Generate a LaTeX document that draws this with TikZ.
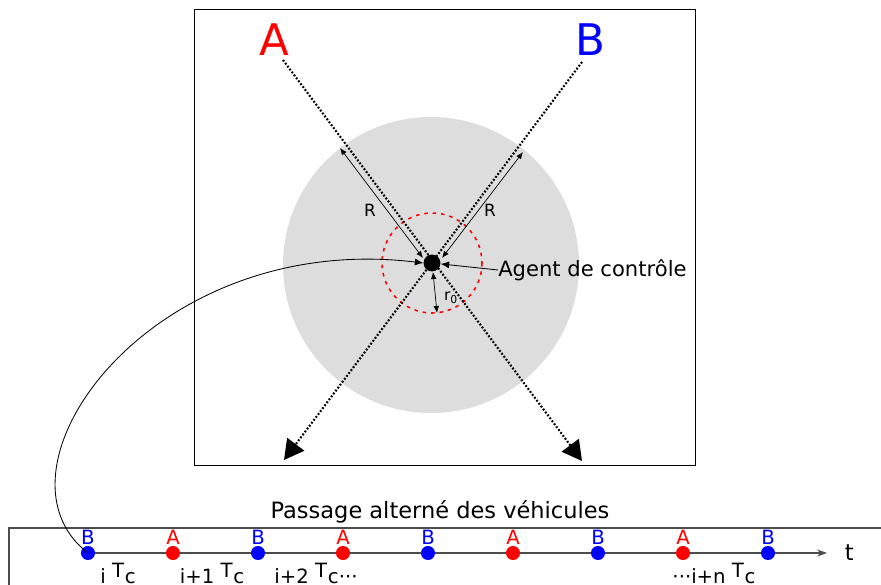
\documentclass[tikz,border=0pt]{standalone}
\usepackage{fontspec}
\setmainfont{DejaVu Sans}
\usepackage{tikz}
\usetikzlibrary{positioning,arrows.meta,calc}
\definecolor{vA}{RGB}{255,0,0}
\definecolor{vB}{RGB}{0,0,255}
\definecolor{zone}{RGB}{221,221,221}
\tikzset{
  dotln/.style={line width=1.5pt,dash pattern=on 1.3pt off 1.3pt,-{Triangle[length=14pt,width=15pt]}},
  dim/.style={{Latex[length=5pt,width=4pt]}-{Latex[length=5pt,width=4pt]},line width=0.5pt},
  veh/.style={circle,inner sep=0pt,minimum size=10pt},
  big/.style={font=\fontsize{31}{36}\selectfont,inner sep=0pt},
  vlab/.style={font=\fontsize{14}{16}\selectfont,inner sep=0pt,above=1pt},
  tlab/.style={font=\fontsize{14}{16}\selectfont,inner sep=0pt,anchor=base},
}
\newcommand{\Tc}{\raisebox{0.55ex}{T}\kern0.5pt c}
\begin{document}
\begin{tikzpicture}[x=0.025cm,y=-0.025cm]
  \useasboundingbox (0,0) rectangle (881,585);
  % zone de controle
  \draw[line width=0.6pt] (194,9) rectangle (695,465);
  \fill[zone] (431,265) circle (148);
  \draw[vA,line width=1.1pt,dash pattern=on 2.5pt off 3.5pt] (432,263) circle (50);
  % origines et sorties des flux
  \node[big,text=vA] (labA) at (274,40) {A};
  \node[big,text=vB] (labB) at (590,40) {B};
  \coordinate (aS) at (283,60);
  \coordinate (aE) at (582,461);
  \coordinate (bS) at (582,62);
  \coordinate (bE) at (284,460);
  \draw[dotln] (aS) -- (aE);
  \draw[dotln] (bS) -- (bE);
  \node[circle,fill=black,inner sep=0pt,minimum size=12pt] (agent) at (432,263) {};
  % rayons
  \coordinate (rA1) at (340,148);
  \coordinate (rA2) at (423,258);
  \coordinate (rB1) at (523,152);
  \coordinate (rB2) at (442,258);
  \coordinate (r01) at (433,272);
  \coordinate (r02) at (437,313);
  \draw[dim] (rA1) -- (rA2);
  \draw[dim] (rB1) -- (rB2);
  \draw[dim] (r01) -- (r02);
  \node[font=\fontsize{12}{14}\selectfont] (lR1) at (370,210) {R};
  \node[font=\fontsize{12}{14}\selectfont] (lR2) at (490,210) {R};
  \node[font=\fontsize{11}{13}\selectfont,inner sep=0pt] (lr0) at (451,298) {r\textsubscript{0}};
  \node[font=\fontsize{15}{18}\selectfont,anchor=west,inner sep=0pt] (ctrl) at (498,270) {Agent de contrôle};
  \draw[-{Latex[length=6pt,width=5pt]},line width=0.6pt] (ctrl.west) -- (agent);
  % ligne du temps
  \node[font=\fontsize{16}{19}\selectfont] (titre) at (440,512) {Passage alterné des véhicules};
  \draw[gray!60!black,line width=1pt] (9,600) -- (9,528) -- (890,528);
  \coordinate (tEnd) at (827,553);
  \draw[gray!60!black,line width=0.8pt,-{Stealth[length=7pt,width=5pt]}] (88,553) -- (tEnd);
  \node[font=\fontsize{16}{19}\selectfont,anchor=west] (t) at (840,553) {t};
  \foreach \k/\lab/\col in {0/B/vB,1/A/vA,2/B/vB,3/A/vA,4/B/vB,5/A/vA,6/B/vB,7/A/vA,8/B/vB} {
    \node[veh,fill=\col] (v\k) at ({88+85*\k},553) {};
    \node[vlab,text=\col] (l\k) at (v\k.north) {\lab};
  }
  \node[tlab] (c0) at (118,583) {i \Tc};
  \node[tlab] (c1) at (212,583) {i+1 \Tc};
  \node[tlab] (c2) at (316,583) {i+2 \Tc···};
  \node[tlab] (c8) at (714,583) {···i+n \Tc};
  % lien agent / ligne du temps
  \draw[-{Latex[length=6pt,width=5pt]},line width=0.6pt] (v0.center) .. controls (-20,470) and (150,230) .. (agent.west);
\end{tikzpicture}
\end{document}
